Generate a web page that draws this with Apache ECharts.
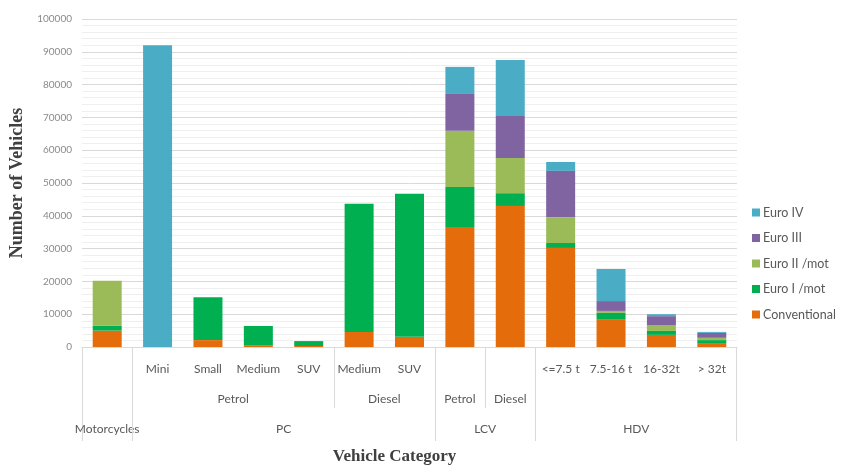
<!DOCTYPE html>
<html>
<head>
<meta charset="utf-8">
<script src="https://cdn.jsdelivr.net/npm/echarts@6/dist/echarts.min.js"></script>
<style>html,body{margin:0;padding:0;background:#fff;}#c{width:861px;height:466px;}</style>
</head>
<body>
<div id="c"></div>
<script>
const categories = ['', 'Mini', 'Small', 'Medium', 'SUV', 'Medium', 'SUV', '', '', '<=7.5 t', '7.5-16 t', '16-32t', '> 32t'];
const conventional = [5000, 0, 2100, 400, 300, 4600, 3100, 36600, 43000, 30200, 8500, 3700, 1200];
const euroI = [1500, 0, 13100, 6000, 1500, 39100, 43600, 12200, 3900, 1500, 1900, 1200, 900];
const euroII = [13700, 0, 0, 0, 0, 0, 0, 17100, 10700, 7900, 600, 1800, 700];
const euroIII = [0, 0, 0, 0, 0, 0, 0, 11500, 12800, 14100, 3000, 2700, 1500];
const euroIV = [0, 92000, 0, 0, 0, 0, 0, 8000, 17100, 2700, 9800, 600, 300];
const seriesNames = ['Conventional', 'Euro I /mot', 'Euro II /mot', 'Euro III', 'Euro IV'];
const legendOrder = ['Euro IV', 'Euro III', 'Euro II /mot', 'Euro I /mot', 'Conventional'];
const fuelGroups = [
  { label: '', from: 0, to: 0 },
  { label: 'Petrol', from: 1, to: 4 },
  { label: 'Diesel', from: 5, to: 6 },
  { label: 'Petrol', from: 7, to: 7 },
  { label: 'Diesel', from: 8, to: 8 },
  { label: '', from: 9, to: 12 }
];
const classGroups = [
  { label: 'Motorcycles', from: 0, to: 0 },
  { label: 'PC', from: 1, to: 6 },
  { label: 'LCV', from: 7, to: 8 },
  { label: 'HDV', from: 9, to: 12 }
];
const yTicks = { min: 0, max: 100000, interval: 10000 };

const colors = ['#e46c0a', '#00b050', '#9bbb59', '#8064a2', '#4bacc6'];
const dataSets = [conventional, euroI, euroII, euroIII, euroIV];

const chart = echarts.init(document.getElementById('c'));
const labelFont = 'Lato, Open Sans, sans-serif';
const serifFont = 'Liberation Serif, DejaVu Serif, serif';

chart.setOption({
  animation: false,
  color: colors,
  grid: { left: 82, right: 124, top: 19, bottom: 119, containLabel: false, outerBoundsMode: 'none' },
  legend: {
    data: legendOrder,
    orient: 'vertical',
    left: 747,
    top: 201,
    itemWidth: 8,
    itemHeight: 8,
    itemGap: 12.5,
    icon: 'rect',
    textStyle: { color: '#595959', fontSize: 12.5, fontFamily: labelFont, padding: [0, 0, 0, -2] }
  },
  xAxis: {
    type: 'category',
    data: categories,
    axisLine: { lineStyle: { color: '#d9d9d9' } },
    axisTick: { show: false },
    axisLabel: { color: '#595959', fontSize: 12, fontFamily: labelFont, margin: 16, interval: 0 },
    name: 'Vehicle Category',
    nameLocation: 'middle',
    nameGap: 101,
    nameTextStyle: { fontFamily: serifFont, fontWeight: 'bold', fontSize: 17, color: '#404040', padding: [0, 30, 0, 0] }
  },
  yAxis: {
    type: 'value',
    min: yTicks.min,
    max: yTicks.max,
    interval: yTicks.interval,
    axisLine: { show: false },
    axisTick: { show: false },
    axisLabel: { color: '#8a8a8a', fontSize: 10, fontFamily: labelFont, margin: 10, formatter: v => String(v) },
    splitLine: { lineStyle: { color: '#d9d9d9' } },
    minorTick: { show: false, splitNumber: 5 },
    minorSplitLine: { show: true, lineStyle: { color: '#efefef' } },
    name: 'Number of Vehicles',
    nameLocation: 'middle',
    nameGap: 48,
    nameTextStyle: { fontFamily: serifFont, fontWeight: 'bold', fontSize: 18, color: '#404040' }
  },
  series: seriesNames.map((n, i) => ({
    name: n,
    type: 'bar',
    stack: 'total',
    barWidth: 29,
    data: dataSets[i]
  }))
});

function buildGraphic() {
  const c0 = chart.convertToPixel({ xAxisIndex: 0 }, 0);
  const c1 = chart.convertToPixel({ xAxisIndex: 0 }, 1);
  const band = c1 - c0;
  const y0 = chart.convertToPixel({ yAxisIndex: 0 }, 0);
  const edgeL = i => chart.convertToPixel({ xAxisIndex: 0 }, i) - band / 2;
  const edgeR = i => chart.convertToPixel({ xAxisIndex: 0 }, i) + band / 2;
  const els = [];
  const lineStyle = { stroke: '#d9d9d9', lineWidth: 1 };
  const row2Bottom = y0 + 61;
  const fullBottom = y0 + 94;
  const classStarts = new Set(classGroups.map(g => g.from));
  fuelGroups.forEach(g => {
    if (!classStarts.has(g.from)) {
      const x = Math.round(edgeL(g.from)) + 0.5;
      els.push({ type: 'line', shape: { x1: x, y1: y0, x2: x, y2: row2Bottom }, style: lineStyle });
    }
    if (g.label) {
      const cx = (edgeL(g.from) + edgeR(g.to)) / 2;
      els.push({ type: 'text', x: cx, y: y0 + 52, style: { text: g.label, fill: '#595959', fontSize: 12, fontFamily: labelFont, align: 'center', verticalAlign: 'middle' } });
    }
  });
  classGroups.forEach((g, idx) => {
    const x = Math.round(edgeL(g.from)) + 0.5;
    els.push({ type: 'line', shape: { x1: x, y1: y0, x2: x, y2: fullBottom }, style: lineStyle });
    if (idx === classGroups.length - 1) {
      const xr = Math.round(edgeR(g.to)) - 0.5;
      els.push({ type: 'line', shape: { x1: xr, y1: y0, x2: xr, y2: fullBottom }, style: lineStyle });
    }
    const cx = (edgeL(g.from) + edgeR(g.to)) / 2;
    els.push({ type: 'text', x: cx, y: y0 + 82, style: { text: g.label, fill: '#595959', fontSize: 12, fontFamily: labelFont, align: 'center', verticalAlign: 'middle' } });
  });
  chart.setOption({ graphic: { elements: els } });
}
buildGraphic();
</script>
</body>
</html>
